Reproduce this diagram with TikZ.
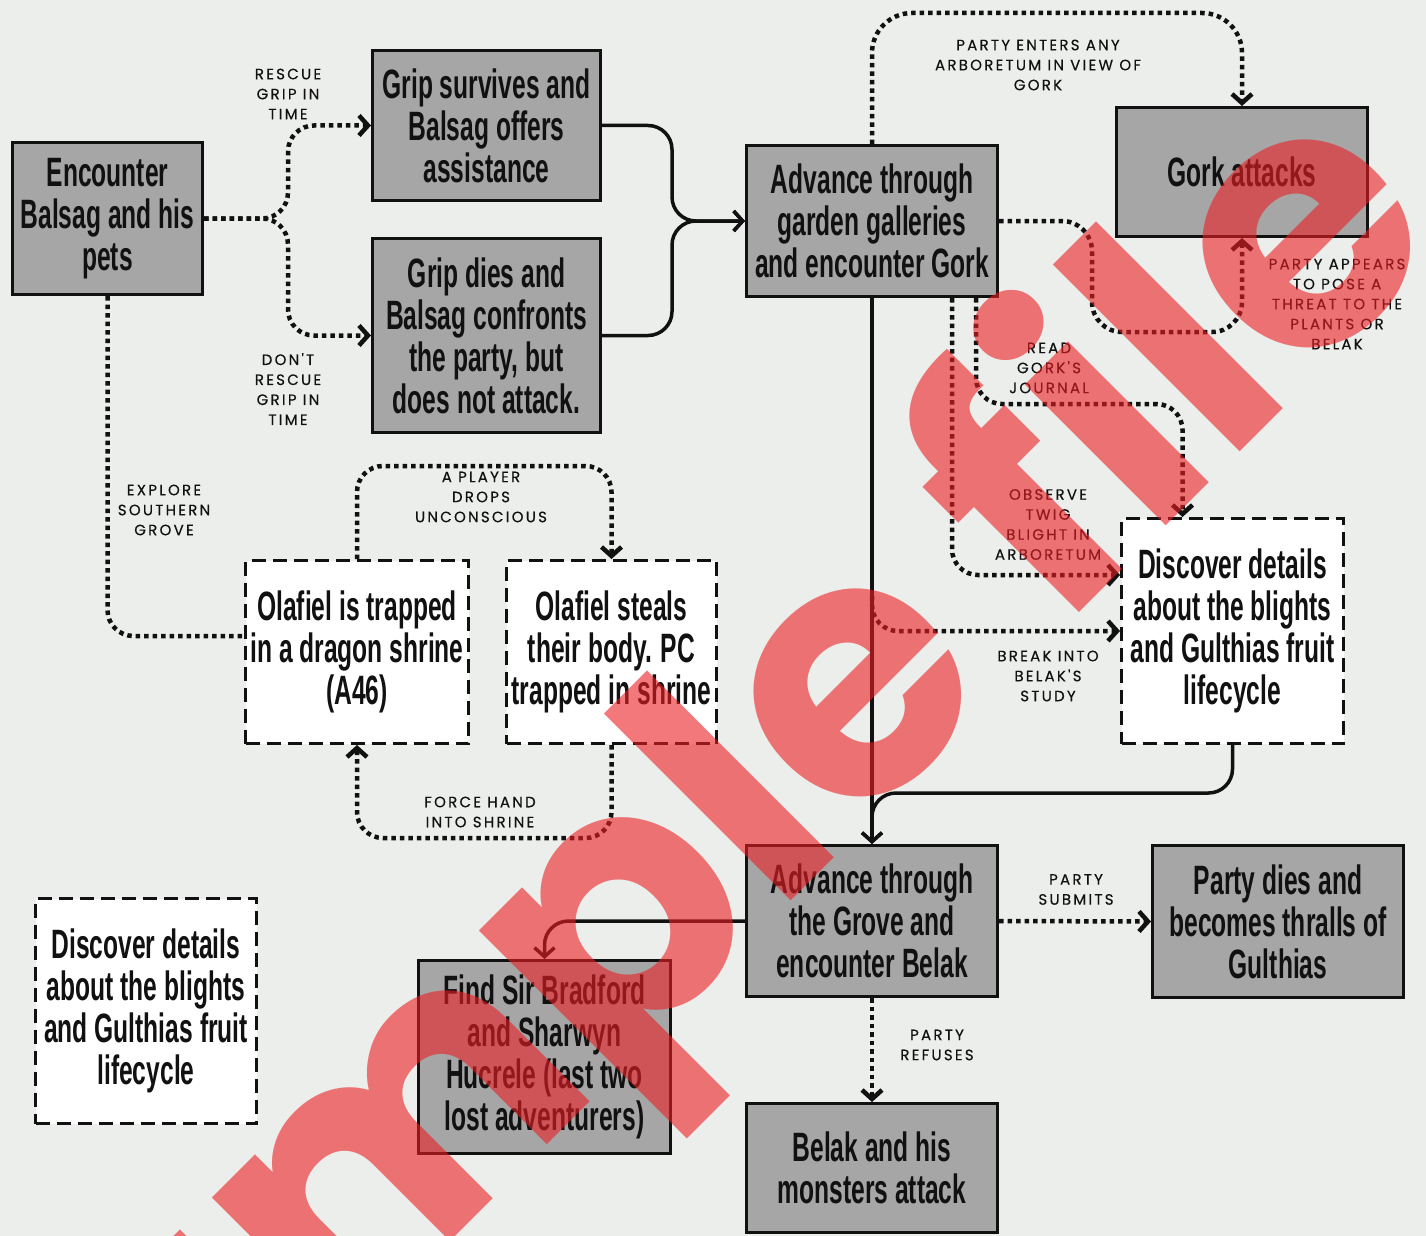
\documentclass[tikz,border=0pt]{standalone}
\usepackage{fontspec}
\usepackage{xcolor}
\usepackage{tikz}
\usetikzlibrary{arrows.meta}
\newfontfamily\boxfont[FakeStretch=0.6]{Liberation Sans}
\newfontfamily\lblfont[LetterSpace=15, FakeBold=0.35]{Poppins}
\newfontfamily\wmfont{Poppins}
\definecolor{PaperGray}{RGB}{236,238,235}
\definecolor{BoxGray}{RGB}{166,166,166}
\definecolor{InkBlack}{RGB}{17,17,17}
\definecolor{MarkRed}{RGB}{235,30,35}
\tikzset{
  gbox/.style={draw=InkBlack, line width=3pt, fill=BoxGray, align=center, inner sep=0pt,
    text=InkBlack, font=\boxfont\bfseries\fontsize{41}{42}\selectfont},
  wbox/.style={gbox, fill=white, dash pattern=on 14pt off 7pt},
  dotarr/.style={-{Straight Barb[length=9pt,width=20pt]}, line width=4.5pt,
    dash pattern=on 4.5pt off 4pt, InkBlack, rounded corners=26pt},
  dotline/.style={dotarr, -},
  solarr/.style={-{Straight Barb[length=9pt,width=20pt]}, line width=3.5pt, InkBlack, rounded corners=24pt},
  lbl/.style={font=\lblfont\fontsize{15}{20}\selectfont, align=center, text=InkBlack, inner sep=0pt},
  stamp/.style={rotate=45, text=MarkRed, text opacity=0.6, inner sep=0pt,
    font=\wmfont\bfseries\fontsize{357}{400}\selectfont},
}

\begin{document}
\begin{tikzpicture}[x=1pt, y=-1pt]
  \useasboundingbox (0,0) rectangle (1426,1236);
  \fill[PaperGray] (0,0) rectangle (1426,1236);

  % boxes
  \node[gbox, minimum width=190pt, minimum height=152pt] (enc) at (107.5,218.5) {Encounter\\Balsag and his\\pets};
  \node[gbox, minimum width=228pt, minimum height=150pt] (gsurv) at (486.5,125.5) {Grip survives and\\Balsag offers\\assistance};
  \node[gbox, minimum width=228pt, minimum height=194pt] (gdies) at (486.5,335.5) {Grip dies and\\Balsag confronts\\the party, but\\does not attack.};
  \node[gbox, minimum width=251pt, minimum height=151pt] (advg) at (872,221) {Advance through\\garden galleries\\and encounter Gork};
  \node[gbox, minimum width=251pt, minimum height=129pt] (gork) at (1242,172) {Gork attacks};
  \node[wbox, minimum width=222pt, minimum height=225pt] (discR) at (1232.5,631) {Discover details\\about the blights\\and Gulthias fruit\\lifecycle};
  \node[wbox, minimum width=223pt, minimum height=183pt] (olaf1) at (357,652) {Olafiel is trapped\\in a dragon shrine\\(A46)};
  \node[wbox, minimum width=210pt, minimum height=183pt] (olaf2) at (611.5,652) {Olafiel steals\\their body. PC\\trapped in shrine};
  \node[gbox, minimum width=251pt, minimum height=151pt] (advb) at (872,921) {Advance through\\the Grove and\\encounter Belak};
  \node[gbox, minimum width=251pt, minimum height=152pt] (thrall) at (1278,921.5) {Party dies and\\becomes thralls of\\Gulthias};
  \node[gbox, minimum width=251pt, minimum height=129pt] (belak) at (872,1168) {Belak and his\\monsters attack};
  \node[gbox, minimum width=252pt, minimum height=193pt] (find) at (544.5,1057) {Find Sir Bradford\\and Sharwyn\\Hucrele (last two\\lost adventurers)};
  \node[wbox, minimum width=221pt, minimum height=225pt] (discL) at (146,1011) {Discover details\\about the blights\\and Gulthias fruit\\lifecycle};

  % Balsag
  \coordinate (fork) at (288,218.5);
  \draw[dotarr] (enc.east) -- (fork) |- (gsurv.west);
  \draw[dotarr] (enc.east) -- (fork) |- (gdies.west);
  \node[lbl] (lrescue) at (288,94) {RESCUE\\GRIP IN\\TIME};
  \node[lbl] (lnorescue) at (288,389) {DON'T\\RESCUE\\GRIP IN\\TIME};
  \coordinate (join) at (672,221);
  \draw[solarr] (gsurv.east) -| (join) -- (advg.west);
  \draw[solarr] (gdies.east) -| (join) -- (advg.west);

  % southern grove
  \draw[dotline] (enc.south) |- ([yshift=16pt]olaf1.west);
  \node[lbl] (lexplore) at (164,510) {EXPLORE\\SOUTHERN\\GROVE};
  \coordinate (droptop) at (484,466);
  \draw[dotarr] (olaf1.north) |- (droptop) -| (olaf2.north);
  \node[lbl] (ldrops) at (481,497) {A PLAYER\\DROPS\\UNCONSCIOUS};
  \coordinate (forcebot) at (484,838);
  \draw[dotarr] (olaf2.south) |- (forcebot) -| (olaf1.south);
  \node[lbl] (lforce) at (480,812) {FORCE HAND\\INTO SHRINE};

  % Gork
  \coordinate (gorktop) at (1050,13);
  \draw[dotarr, rounded corners=40pt] (advg.north) |- (gorktop) -| (gork.north);
  \node[lbl] (lentry) at (1038,65) {PARTY ENTERS ANY\\ARBORETUM IN VIEW OF\\GORK};
  \coordinate (threat) at (1092,332);
  \draw[dotarr, rounded corners=30pt] (advg.east) -| (threat) -| (gork.south);
  \node[lbl] (lthreat) at (1337,304) {PARTY APPEARS\\TO POSE A\\THREAT TO THE\\PLANTS OR\\BELAK};
  \coordinate (journal) at (1080,404);
  \draw[dotarr] ([xshift=104pt]advg.south) |- (journal) -| ([xshift=-50pt]discR.north);
  \node[lbl] (ljournal) at (1049,368) {READ\\GORK'S\\JOURNAL};
  \draw[dotarr] ([xshift=80pt]advg.south) |- ([yshift=56pt]discR.west);
  \node[lbl] (ltwig) at (1048,524.5) {OBSERVE\\TWIG\\BLIGHT IN\\ARBORETUM};

  % Belak
  \draw[solarr] (advg.south) -- (advb.north);
  \coordinate (brk) at (872,596);
  \draw[dotarr] (brk) |- (discR.west);
  \node[lbl] (lstudy) at (1048,676) {BREAK INTO\\BELAK'S\\STUDY};
  \coordinate (merge) at (872,793);
  \draw[solarr] (discR.south) |- (merge) -- (advb.north);
  \draw[dotarr] (advb.east) -- (thrall.west);
  \node[lbl] (lsubmit) at (1076,889.5) {PARTY\\SUBMITS};
  \draw[dotarr] (advb.south) -- (belak.north);
  \node[lbl] (lrefuse) at (937,1045) {PARTY\\REFUSES};
  \draw[solarr] (advb.west) -| (find.north);

  \node[stamp] (mark) at (665,892) {Sample file};
\end{tikzpicture}
\end{document}
